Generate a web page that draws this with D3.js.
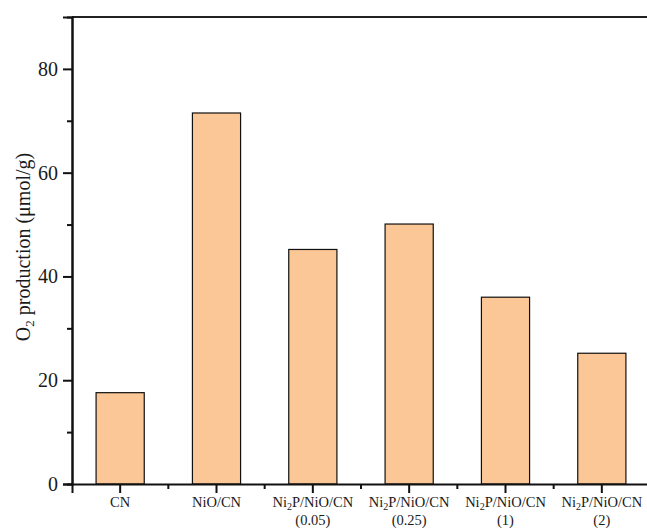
<!DOCTYPE html>
<html>
<head>
<meta charset="utf-8">
<script src="https://cdn.jsdelivr.net/npm/d3@7"></script>
<style>
  body { margin: 0; background: #fff; }
  svg { display: block; }
</style>
</head>
<body>
<svg id="chart" width="647" height="528"></svg>
<script>
// data
var categories = ["CN", "NiO/CN", "Ni2P/NiO/CN (0.05)", "Ni2P/NiO/CN (0.25)", "Ni2P/NiO/CN (1)", "Ni2P/NiO/CN (2)"];
var production = [17.6, 71.5, 45.2, 50.1, 36.0, 25.2];
var yTicks = [0, 20, 40, 60, 80];
var yMinorTicks = [10, 30, 50, 70];

var serif = "'Times New Roman', 'Liberation Serif', Times, serif";

var svg = d3.select("#chart");

var plotLeft = 72, plotTop = 17, plotBottom = 484, plotRight = 650;

var x = d3.scaleBand()
          .domain(categories)
          .range([plotLeft, plotRight])
          .paddingInner(0.5)
          .paddingOuter(0.25);

var y = d3.scaleLinear()
          .domain([0, 90])
          .range([plotBottom, plotTop]);

// bars
svg.append("g")
   .selectAll("rect")
   .data(production)
   .enter()
   .append("rect")
   .attr("x", (d, i) => x(categories[i]))
   .attr("y", d => y(d))
   .attr("width", x.bandwidth())
   .attr("height", d => y(0) - y(d))
   .attr("fill", "#fbc796")
   .attr("stroke", "#111")
   .attr("stroke-width", 1.2);

// top frame line
svg.append("line")
   .attr("x1", plotLeft).attr("x2", 647)
   .attr("y1", plotTop).attr("y2", plotTop)
   .attr("stroke", "#222").attr("stroke-width", 2);

// y axis
var gY = svg.append("g").attr("transform", `translate(${plotLeft},0)`);
gY.call(d3.axisLeft(y).tickValues(yTicks).tickSize(9).tickPadding(5).tickFormat(d => d));
gY.append("g").call(d3.axisLeft(y).tickValues(yMinorTicks).tickSize(5).tickFormat(""));
gY.select("g").select(".domain").remove();
gY.selectAll(".domain").attr("stroke", "#111").attr("stroke-width", 2);
gY.selectAll(".tick line").attr("stroke", "#111").attr("stroke-width", 2);
gY.attr("font-family", serif).attr("font-size", 20);
gY.selectAll(".tick text").style("font-family", serif).style("font-size", "20px").attr("fill", "#1a1a1a");

// x axis
var gX = svg.append("g").attr("transform", `translate(0,${plotBottom})`);
gX.call(d3.axisBottom(x).tickSize(9).tickFormat(""));
gX.selectAll(".domain").attr("stroke", "#111").attr("stroke-width", 2);
gX.selectAll(".tick line").attr("stroke", "#111").attr("stroke-width", 2);

// minor ticks between categories
var step = x.step();
gX.append("g")
  .selectAll("line")
  .data(categories.slice(1))
  .enter()
  .append("line")
  .attr("x1", d => x(d) + x.bandwidth() / 2 - step / 2)
  .attr("x2", d => x(d) + x.bandwidth() / 2 - step / 2)
  .attr("y1", 0).attr("y2", 5)
  .attr("stroke", "#111").attr("stroke-width", 2);

// x labels with subscript
var labels = svg.append("g").style("font-family", serif);
categories.forEach(function (c) {
  var cx = x(c) + x.bandwidth() / 2;
  var parts = c.split(" ");
  var t = labels.append("text")
    .attr("x", cx).attr("y", 507)
    .attr("text-anchor", "middle")
    .attr("font-size", 14.5)
    .attr("fill", "#1a1a1a");
  if (parts[0].indexOf("Ni2P") === 0) {
    t.append("tspan").text("Ni");
    t.append("tspan").text("2").attr("font-size", 10).attr("dy", 3);
    t.append("tspan").text(parts[0].slice(3)).attr("dy", -3);
  } else {
    t.text(parts[0]);
  }
  if (parts[1]) {
    labels.append("text")
      .attr("x", cx).attr("y", 525)
      .attr("text-anchor", "middle")
      .attr("font-size", 14.5)
      .attr("fill", "#1a1a1a")
      .text(parts[1]);
  }
});

// y title
var title = svg.append("text")
  .style("font-family", serif)
  .attr("transform", "translate(30,247) rotate(-90)")
  .attr("text-anchor", "middle")
  .attr("font-size", 20)
  .attr("fill", "#1a1a1a");
title.append("tspan").text("O");
title.append("tspan").text("2").attr("font-size", 13).attr("dy", 4);
title.append("tspan").text(" production (\u03bcmol/g)").attr("dy", -4);
</script>
</body>
</html>
